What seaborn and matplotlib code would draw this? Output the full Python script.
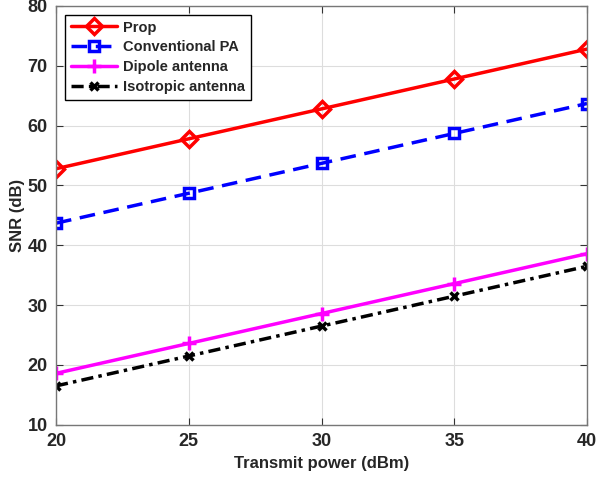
import pandas as pd
import seaborn as sns
import matplotlib.pyplot as plt

# dados
power = [20, 25, 30, 35, 40]
prop = [52.8, 57.8, 62.8, 67.8, 72.8]
conv_pa = [43.7, 48.7, 53.7, 58.7, 63.7]
dipole = [18.6, 23.6, 28.6, 33.6, 38.6]
isotropic = [16.5, 21.5, 26.5, 31.5, 36.5]

series = ['Prop', 'Conventional PA', 'Dipole antenna', 'Isotropic antenna']
values = [prop, conv_pa, dipole, isotropic]

df = pd.concat([pd.DataFrame({'power': power, 'snr': v, 'scheme': s})
                for s, v in zip(series, values)])

sns.set_style('ticks')
plt.rcParams['font.family'] = ['Liberation Sans', 'DejaVu Sans']
plt.rcParams['font.weight'] = 'bold'

fig = plt.figure(figsize=(5.96, 4.8), dpi=100)
ax = fig.add_axes([0.094, 0.115, 0.891, 0.8725])

# cor, estilo da linha, marcador, tamanho, preenchimento
estilos = {
    'Prop': ('red', '-', 'D', 8, 'none'),
    'Conventional PA': ('blue', (0, (4.5, 2.5)), 's', 7, 'none'),
    'Dipole antenna': ('magenta', '-', '+', 10, 'magenta'),
    'Isotropic antenna': ('black', (0, (3.5, 1.5, 1, 1.5)), 'x', 6, 'black'),
}

for s in series:
    sub = df[df['scheme'] == s]
    cor, ls, mk, ms, mfc = estilos[s]
    sns.lineplot(data=sub, x='power', y='snr', ax=ax, label=s, color=cor,
                 lw=2.5, marker=mk, markersize=ms, markerfacecolor=mfc,
                 markeredgecolor=cor, markeredgewidth=2.5)
    ax.lines[-1].set_linestyle(ls)

ax.set_xlim(20, 40)
ax.set_ylim(10, 80)
ax.set_xticks(power)
ax.set_yticks(range(10, 81, 10))
ax.grid(True, color='#dddddd', lw=0.8)
ax.set_xlabel('Transmit power (dBm)', fontsize=12, fontweight='bold', labelpad=4)
ax.set_ylabel('SNR (dB)', fontsize=12, fontweight='bold', labelpad=2)
ax.tick_params(direction='in', top=True, right=True, labelsize=13,
               color='#333333', length=5, pad=6)
for sp in ax.spines.values():
    sp.set_color('#777777')
    sp.set_linewidth(1)

h, l = ax.get_legend_handles_labels()
leg = ax.legend(h, l, loc='upper left', fontsize=10.5, frameon=True, fancybox=False,
                edgecolor='black', framealpha=1, handlelength=3.2,
                borderaxespad=0.6, labelspacing=0.4, handletextpad=0.4)
leg.get_frame().set_linewidth(1)
for t in leg.get_texts():
    t.set_fontweight('bold')

fig.savefig('out.png', dpi=100)
